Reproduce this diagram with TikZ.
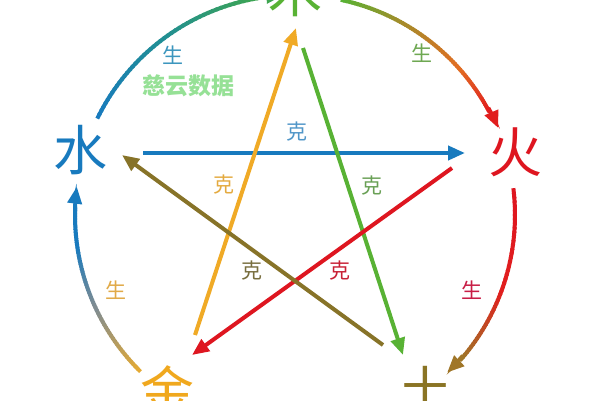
\documentclass[tikz,border=0pt]{standalone}
\usepackage{fontspec}
\setmainfont{Noto Sans CJK SC}
\usetikzlibrary{arrows.meta}
\definecolor{cWater}{RGB}{24,122,190}
\definecolor{cFire}{RGB}{222,22,32}
\definecolor{cWood}{RGB}{88,178,52}
\definecolor{cMetal}{RGB}{240,168,30}
\definecolor{cEarth}{RGB}{138,116,36}
\definecolor{cOrangeLine}{RGB}{240,170,38}
\definecolor{cOliveLine}{RGB}{135,115,40}
\definecolor{cTeal}{RGB}{32,142,150}
\definecolor{cGreenEnd}{RGB}{62,165,80}
\definecolor{cOliveArc}{RGB}{168,138,42}
\definecolor{cOrangeArc}{RGB}{225,110,35}
\definecolor{cRedArc}{RGB}{225,30,30}
\definecolor{cBrownArc}{RGB}{160,118,40}
\definecolor{cGrayArc}{RGB}{128,140,145}
\definecolor{cGoldArc}{RGB}{228,170,52}
\definecolor{lbTeal}{RGB}{60,150,190}
\definecolor{lbGreen}{RGB}{110,168,82}
\definecolor{lbCrimson}{RGB}{200,30,70}
\definecolor{lbGold}{RGB}{225,170,72}
\definecolor{lbOlive}{RGB}{150,130,60}
\definecolor{kBlue}{RGB}{80,150,200}
\definecolor{kOrange}{RGB}{228,170,64}
\definecolor{kGreen}{RGB}{105,160,85}
\definecolor{kRed}{RGB}{200,32,52}
\definecolor{kOlive}{RGB}{120,110,62}
\definecolor{wmGreen}{RGB}{150,225,150}
\newcommand\wxgradarc[4]{%
  \foreach \i in {0,...,23}{%
    \pgfmathsetmacro\ta{#1+(#2-#1)*\i/24}%
    \pgfmathsetmacro\tb{#1+(#2-#1)*(\i+1.4)/24}%
    \pgfmathtruncatemacro\pp{100*\i/23}%
    \draw[sheng, color=#4!\pp!#3] (O) ++(\ta:220pt) arc[start angle=\ta, end angle=\tb, radius=220pt];
  }}
\begin{document}
\begin{tikzpicture}[x=1pt,y=1pt,
  sheng/.style={line width=4pt, line cap=butt},
  tipped/.style={line width=4pt, -{Triangle[length=17pt,width=14pt]}},
  elem/.style={font=\fontsize{54}{54}\selectfont, inner sep=0pt},
  lbl/.style={font=\fontsize{21}{21}\selectfont, inner sep=0pt}]
\useasboundingbox (0,0) rectangle (600,400);
\fill[white] (0,0) rectangle (600,400);
\clip (0,0) rectangle (600,400);
\coordinate (O) at (295,185);

% generating cycle arcs
% water -> wood
\wxgradarc{154}{128}{cWater}{cTeal}
\wxgradarc{128}{99}{cTeal}{cGreenEnd}
\draw[tipped, cGreenEnd] (O) ++(99:220pt) arc[start angle=99, end angle=93, radius=220pt];
% wood -> fire
\wxgradarc{78}{60}{cWood}{cOliveArc}
\wxgradarc{60}{42}{cOliveArc}{cOrangeArc}
\wxgradarc{42}{28}{cOrangeArc}{cRedArc}
\draw[tipped, cRedArc] (O) ++(29:221pt) arc[start angle=29, end angle=23.2, radius=221pt];
% fire -> earth
\wxgradarc{7}{-20}{cFire}{cRedArc}
\wxgradarc{-20}{-41}{cRedArc}{cBrownArc}
\draw[tipped, cBrownArc] (O) ++(-40:219pt) arc[start angle=-40, end angle=-46, radius=219pt];
% metal -> water
\wxgradarc{225.4}{205}{cGoldArc}{cGrayArc}
\wxgradarc{205}{188}{cGrayArc}{cWater}
\wxgradarc{188}{178}{cWater}{cWater}
\draw[tipped, cWater] (O) ++(179:220pt) arc[start angle=179, end angle=172.6, radius=220pt];

% controlling star
\coordinate (b1) at (143,247);  \coordinate (b2) at (465,247);
\coordinate (o1) at (195,65);   \coordinate (o2) at (296,372);
\coordinate (g1) at (303,352);  \coordinate (g2) at (403,45);
\coordinate (r1) at (452,232);  \coordinate (r2) at (192,45);
\coordinate (e1) at (383,55);   \coordinate (e2) at (122,245);
\draw[tipped, cWater] (b1) -- (b2);
\draw[tipped, cOrangeLine] (o1) -- (o2);
\draw[tipped, cWood] (g1) -- (g2);
\draw[tipped, cFire] (r1) -- (r2);
\draw[tipped, cOliveLine] (e1) -- (e2);

% element characters
\node[elem, text=cWater] (shui) at (80,250) {水};
\node[elem, text=cFire] (huo) at (515,248) {火};
\node[elem, text=cWood] (mu) at (295,408) {木};
\node[elem, text=cMetal] (jin) at (167,10) {金};
\node[elem, text=cEarth] (tu) at (425,10) {土};

% labels
\node[lbl, text=lbTeal] (s1) at (173,345) {生};
\node[lbl, text=lbGreen] (s2) at (422,347) {生};
\node[lbl, text=lbCrimson] (s3) at (472,110) {生};
\node[lbl, text=lbGold] (s4) at (116,110) {生};
\node[lbl, text=lbOlive] (s5) at (295,-12) {生};
\node[lbl, text=kBlue] (k1) at (297,268) {克};
\node[lbl, text=kOrange] (k2) at (224,215) {克};
\node[lbl, text=kGreen] (k3) at (372,214) {克};
\node[lbl, text=kRed] (k4) at (340,129) {克};
\node[lbl, text=kOlive] (k5) at (252,129) {克};

% watermark
\node[font=\fontsize{23}{23}\selectfont\bfseries, text=wmGreen, inner sep=0pt] (wm) at (188,314) {慈云数据};
\end{tikzpicture}
\end{document}
